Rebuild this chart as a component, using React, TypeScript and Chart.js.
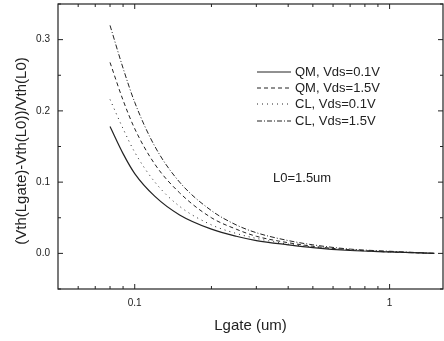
import React, { useEffect, useRef } from "react";
import { Chart, registerables } from "chart.js";

Chart.register(...registerables);

const lgate = [0.08, 0.09, 0.1, 0.12, 0.15, 0.2, 0.25, 0.3, 0.4, 0.5, 0.7, 1.0, 1.5];
const qm01 = [0.178, 0.14, 0.112, 0.08, 0.054, 0.034, 0.024, 0.018, 0.012, 0.008, 0.004, 0.002, 0.0];
const qm15 = [0.268, 0.215, 0.175, 0.125, 0.085, 0.05, 0.034, 0.024, 0.015, 0.01, 0.005, 0.002, 0.0];
const cl01 = [0.216, 0.175, 0.142, 0.1, 0.066, 0.04, 0.028, 0.021, 0.013, 0.009, 0.005, 0.002, 0.0];
const cl15 = [0.32, 0.26, 0.212, 0.15, 0.1, 0.06, 0.04, 0.029, 0.018, 0.012, 0.006, 0.003, 0.0];

const seriesNames = ["QM, Vds=0.1V", "QM, Vds=1.5V", "CL, Vds=0.1V", "CL, Vds=1.5V"];
const seriesDash = [[], [4, 3], [1, 4], [5, 2, 1, 2]];
const yTicks = [0.0, 0.1, 0.2, 0.3];
const yMinor = [-0.05, 0.05, 0.15, 0.25, 0.35];
const xTicks = [0.1, 1];
const xMinor = [0.06, 0.07, 0.08, 0.09, 0.2, 0.3, 0.4, 0.5, 0.6, 0.7, 0.8, 0.9];
const annotation = "L0=1.5um";
const xTitle = "Lgate (um)";
const yTitle = "(Vth(Lgate)-Vth(L0))/Vth(L0)";

const FONT = "'Liberation Sans', Arial, sans-serif";
const INK = "#222";

const framePlugin = {
  id: "frame",
  afterDraw(chart: any) {
    const { ctx, chartArea: a, scales } = chart;
    const x = scales.x;
    const y = scales.y;
    ctx.save();
    ctx.strokeStyle = INK;
    ctx.lineWidth = 1.2;
    ctx.setLineDash([]);
    ctx.strokeRect(a.left, a.top, a.right - a.left, a.bottom - a.top);
    ctx.lineWidth = 1;
    const xt = (v: number, len: number) => {
      const px = x.getPixelForValue(v);
      ctx.beginPath();
      ctx.moveTo(px, a.bottom);
      ctx.lineTo(px, a.bottom - len);
      ctx.moveTo(px, a.top);
      ctx.lineTo(px, a.top + len);
      ctx.stroke();
    };
    xTicks.forEach((v) => xt(v, 5));
    xMinor.forEach((v) => xt(v, 3));
    const yt = (v: number, len: number) => {
      const py = y.getPixelForValue(v);
      ctx.beginPath();
      ctx.moveTo(a.left, py);
      ctx.lineTo(a.left + len, py);
      ctx.moveTo(a.right, py);
      ctx.lineTo(a.right - len, py);
      ctx.stroke();
    };
    yTicks.forEach((v) => yt(v, 5));
    yMinor.forEach((v) => yt(v, 3));

    const rows = [72, 88, 104, 121];
    ctx.font = `13px ${FONT}`;
    ctx.fillStyle = INK;
    ctx.textBaseline = "middle";
    ctx.textAlign = "left";
    seriesNames.forEach((name, i) => {
      ctx.beginPath();
      ctx.setLineDash(seriesDash[i]);
      ctx.lineWidth = 1;
      ctx.moveTo(257, rows[i]);
      ctx.lineTo(291, rows[i]);
      ctx.stroke();
      ctx.setLineDash([]);
      ctx.fillText(name, 295, rows[i]);
    });
    ctx.fillText(annotation, 273, 178);

    // axis titles
    ctx.font = `15px ${FONT}`;
    ctx.textAlign = "center";
    ctx.fillText(xTitle, (a.left + a.right) / 2, 326);
    ctx.translate(22, 151);
    ctx.rotate(-Math.PI / 2);
    ctx.fillText(yTitle, 0, 0);
    ctx.restore();
  },
};

export default function App() {
  const ref = useRef<HTMLCanvasElement | null>(null);
  useEffect(() => {
    if (!ref.current) return;
    const mk = (vals: number[]) => lgate.map((l, i) => ({ x: l, y: vals[i] }));
    const all = [qm01, qm15, cl01, cl15];
    const chart = new Chart(ref.current, {
      type: "line",
      data: {
        datasets: all.map((vals, i) => ({
          label: seriesNames[i],
          data: mk(vals),
          borderColor: INK,
          borderWidth: i === 0 ? 1.2 : 1,
          borderDash: seriesDash[i],
          pointRadius: 0,
          fill: false,
          cubicInterpolationMode: "monotone" as const,
        })),
      },
      options: {
        animation: false,
        responsive: false,
        maintainAspectRatio: false,
        layout: { padding: { top: 4, right: 1, left: 0, bottom: 0 } },
        plugins: { legend: { display: false }, tooltip: { enabled: false } },
        scales: {
          x: {
            type: "logarithmic",
            min: 0.05,
            max: 1.62,
            grid: { display: false, drawTicks: false },
            border: { display: false },
            afterBuildTicks: (s: any) => {
              s.ticks = xTicks.map((v) => ({ value: v }));
            },
            afterFit: (s: any) => {
              s.height = 52;
              s.paddingLeft = 0;
              s.paddingRight = 0;
            },
            ticks: {
              padding: 8,
              autoSkip: false,
              maxRotation: 0,
              color: INK,
              font: { family: FONT, size: 10 },
              callback: (v: any) => String(v),
            },
          },
          y: {
            min: -0.05,
            max: 0.35,
            grid: { display: false, drawTicks: false },
            border: { display: false },
            afterBuildTicks: (s: any) => {
              s.ticks = yTicks.map((v) => ({ value: v }));
            },
            afterFit: (s: any) => {
              s.width = 58;
              s.paddingTop = 0;
              s.paddingBottom = 0;
            },
            ticks: {
              padding: 8,
              color: INK,
              font: { family: FONT, size: 10 },
              callback: (v: any) => Number(v).toFixed(1),
            },
          },
        },
      },
      plugins: [framePlugin],
    });
    return () => chart.destroy();
  }, []);
  return (
    <div style={{ position: "fixed", left: 0, top: 0, width: 444, height: 341, background: "#fff" }}>
      <canvas ref={ref} width={444} height={341} style={{ width: 444, height: 341 }} />
    </div>
  );
}
